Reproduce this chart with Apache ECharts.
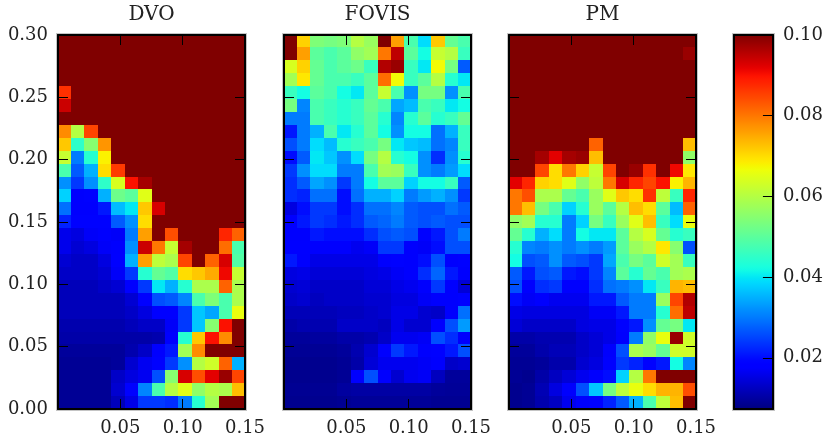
<!DOCTYPE html>
<html><head><meta charset="utf-8">
<style>html,body{margin:0;padding:0;background:#fff}#c{width:826px;height:438px}</style>
<script src="https://cdn.jsdelivr.net/npm/echarts@6/dist/echarts.min.js"></script>
</head><body><div id="c"></div>
<script>
const titles = ['DVO','FOVIS','PM'];
const xTicks = [0.05,0.10,0.15];
const yTicks = [0,0.05,0.10,0.15,0.20,0.25,0.30];
const cbTicks = [0.02,0.04,0.06,0.08,0.10];
const vMin = 0.0073, vMax = 0.10;
const T = 0.1;
// rows listed top (y=0.30) to bottom (y=0.00), 14 columns
const dvo = [
[T,T,T,T,T,T,T,T,T,T,T,T,T,T],
[T,T,T,T,T,T,T,T,T,T,T,T,T,T],
[T,T,T,T,T,T,T,T,T,T,T,T,T,T],
[T,T,T,T,T,T,T,T,T,T,T,T,T,T],
[.087,T,T,T,T,T,T,T,T,T,T,T,T,T],
[.094,T,T,T,T,T,T,T,T,T,T,T,T,T],
[T,T,T,T,T,T,T,T,T,T,T,T,T,T],
[.078,.060,.085,T,T,T,T,T,T,T,T,T,T,T],
[.072,.045,.055,.077,T,T,T,T,T,T,T,T,T,T],
[.062,.030,.044,.068,T,T,T,T,T,T,T,T,T,T],
[.048,.027,.035,.070,.086,T,T,T,T,T,T,T,T,T],
[.032,.024,.032,.045,.064,.090,.097,T,T,T,T,T,T,T],
[.038,.0175,.019,.035,.052,.050,.065,T,T,T,T,T,T,T],
[.029,.0175,.0175,.021,.036,.040,.072,.093,T,T,T,T,T,T],
[.022,.019,.019,.019,.027,.032,.070,T,T,T,T,T,T,T],
[.016,.015,.017,.0175,.017,.030,.076,T,.084,T,T,T,.088,.082],
[.016,.014,.015,.017,.0175,.032,.094,.080,.062,.097,T,T,.081,.048],
[.014,.013,.013,.015,.018,.035,.076,.061,.059,.085,T,.082,.093,.049],
[.013,.013,.013,.014,.017,.024,.044,.051,.049,.070,.072,.075,.091,.062],
[.012,.012,.012,.013,.014,.018,.024,.040,.035,.044,.059,.059,.082,.059],
[.012,.012,.012,.012,.012,.014,.018,.026,.027,.031,.048,.054,.048,.059],
[.012,.012,.012,.012,.012,.013,.015,.018,.018,.024,.037,.034,.048,.066],
[.011,.011,.011,.011,.011,.012,.013,.013,.017,.024,.037,.055,.090,T],
[.0105,.0105,.0105,.0105,.0105,.0105,.0105,.011,.0175,.044,.072,.090,.078,T],
[.0095,.0095,.0095,.0095,.0095,.011,.013,.0175,.021,.058,.078,T,T,T],
[.009,.009,.009,.009,.0095,.0137,.0165,.019,.024,.032,.060,.063,.082,.035],
[.009,.009,.009,.009,.013,.015,.0165,.026,.055,.093,.084,.092,.098,.085],
[.009,.009,.009,.009,.0137,.019,.031,.048,.060,.065,.056,.060,.059,.073],
[.009,.009,.009,.009,.012,.0156,.024,.024,.023,.030,.044,.058,T,T]
];
const fovis = [
[T,.071,.054,.053,.054,.060,.057,T,.076,.048,.039,.072,.051,.048],
[T,.076,.050,.048,.050,.056,.058,.080,.095,.050,.042,.062,.060,.046],
[.064,.071,.051,.048,.050,.052,.046,.096,.098,.046,.040,.067,.053,.027],
[.058,.069,.051,.048,.048,.046,.050,.081,.067,.046,.050,.060,.044,.040],
[.046,.042,.050,.048,.042,.040,.050,.062,.048,.032,.053,.053,.032,.048],
[.053,.031,.048,.046,.044,.046,.051,.048,.034,.036,.048,.046,.040,.042],
[.030,.030,.048,.046,.044,.046,.050,.044,.031,.044,.050,.044,.046,.051],
[.021,.030,.035,.048,.040,.044,.050,.042,.032,.042,.042,.029,.035,.046],
[.026,.030,.039,.036,.044,.046,.048,.053,.040,.037,.036,.029,.031,.046],
[.020,.027,.040,.037,.032,.039,.053,.060,.044,.042,.032,.023,.032,.044],
[.024,.032,.039,.039,.030,.030,.048,.058,.057,.046,.032,.030,.033,.039],
[.023,.027,.034,.032,.024,.030,.042,.050,.050,.038,.042,.042,.046,.027],
[.023,.022,.029,.029,.020,.029,.035,.035,.038,.030,.033,.035,.032,.024],
[.015,.020,.024,.024,.020,.023,.029,.029,.031,.027,.026,.026,.029,.027],
[.0175,.021,.024,.023,.021,.023,.027,.028,.030,.027,.026,.027,.026,.026],
[.0175,.0175,.021,.020,.020,.020,.023,.026,.027,.026,.019,.021,.026,.030],
[.018,.018,.0175,.0175,.0175,.0163,.017,.024,.024,.0175,.017,.020,.026,.026],
[.021,.0175,.0156,.0156,.0156,.0156,.0156,.0175,.019,.0175,.020,.026,.0175,.019],
[.015,.0156,.0143,.0143,.0143,.0143,.015,.0156,.0169,.0175,.023,.028,.021,.0175],
[.0137,.0143,.0131,.0131,.0131,.0131,.0143,.0143,.0156,.0163,.0175,.024,.0175,.0143],
[.0131,.0137,.0124,.0131,.0131,.0131,.0137,.0137,.015,.015,.0169,.0175,.0175,.019],
[.0118,.0118,.0118,.0118,.0124,.0124,.0131,.0137,.0156,.0156,.0137,.0131,.0175,.029],
[.0105,.0112,.0112,.0112,.0131,.0131,.0131,.0124,.0156,.0137,.0137,.0175,.026,.033],
[.0095,.0095,.0098,.0098,.0105,.0105,.0112,.0131,.0163,.0163,.0169,.026,.023,.0175],
[.009,.009,.009,.009,.0095,.0112,.0137,.0175,.024,.021,.0175,.019,.021,.026],
[.0085,.0085,.0085,.0085,.009,.0105,.0143,.0163,.0163,.0163,.0169,.0175,.0131,.0137],
[.0085,.0085,.0085,.0085,.009,.0175,.026,.0175,.0137,.0163,.0169,.0124,.0095,.0095],
[.0088,.0088,.0088,.0088,.0098,.0102,.0102,.0102,.0102,.0102,.0102,.0095,.0092,.0092],
[.0085,.0085,.0085,.0085,.0088,.0092,.0092,.0092,.0092,.0092,.0092,.0088,.0088,.0088]
];
const pm = [
[T,T,T,T,T,T,T,T,T,T,T,T,T,T],
[T,T,T,T,T,T,T,T,T,T,T,T,T,.098],
[T,T,T,T,T,T,T,T,T,T,T,T,T,T],
[T,T,T,T,T,T,T,T,T,T,T,T,T,T],
[T,T,T,T,T,T,T,T,T,T,T,T,T,T],
[T,T,T,T,T,T,T,T,T,T,T,T,T,T],
[T,T,T,T,T,T,T,T,T,T,T,T,T,T],
[T,T,T,T,T,T,T,T,T,T,T,T,T,T],
[T,T,T,T,T,T,.082,T,T,T,T,T,T,.073],
[T,T,.097,.092,.097,.098,.073,T,T,T,T,T,T,.056],
[T,T,.085,.070,.080,.071,.062,.085,T,.098,.087,T,.091,.069],
[.092,.088,.071,.070,.065,.056,.061,.080,.093,.088,.085,.090,.068,.074],
[.080,.084,.059,.059,.051,.048,.057,.065,.072,.070,.087,.061,.046,.088],
[.080,.073,.053,.048,.038,.044,.057,.050,.060,.073,.070,.050,.036,.082],
[.056,.058,.044,.044,.030,.038,.053,.046,.057,.065,.073,.046,.039,.066],
[.051,.044,.035,.039,.030,.042,.040,.040,.050,.060,.064,.051,.044,.046],
[.044,.031,.030,.032,.030,.032,.030,.033,.050,.057,.060,.069,.055,.026],
[.042,.026,.027,.032,.027,.026,.024,.034,.048,.053,.050,.063,.058,.046],
[.027,.021,.026,.027,.021,.020,.024,.031,.050,.044,.051,.048,.058,.059],
[.026,.0175,.023,.024,.0175,.0175,.023,.029,.030,.032,.040,.046,.074,.073],
[.020,.0169,.0175,.0163,.0163,.0163,.021,.021,.027,.030,.030,.057,.085,.096],
[.0156,.015,.015,.015,.015,.015,.0169,.0169,.021,.030,.030,.044,.081,.095],
[.0143,.0131,.0131,.0131,.0131,.015,.0156,.0156,.019,.021,.032,.051,.053,.040],
[.0105,.0105,.0112,.0112,.0112,.0131,.0143,.0156,.0175,.030,.056,.066,.098,.063],
[.0095,.0095,.0108,.0118,.0118,.0131,.0143,.0175,.026,.059,.057,.051,.063,.063],
[.009,.009,.0095,.0108,.0108,.0137,.015,.019,.024,.022,.019,.021,.042,.031],
[.009,.0085,.0105,.0125,.0143,.0163,.0175,.020,.038,.060,.080,T,T,T],
[.0085,.009,.0115,.015,.0175,.026,.037,.053,.061,.066,.070,.074,.074,.084],
[.0085,.009,.011,.0125,.0163,.0175,.019,.022,.027,.035,.048,.061,.073,T]
];
const panels = [dvo, fovis, pm];
const lefts = [58, 284, 509];
const gridW = 187, gridTop = 35, gridH = 374;
const serif = '"DejaVu Serif"', ink = '#222';

function jet(t){
  const seg=(p)=>{for(let i=1;i<p.length;i++){if(t<=p[i][0]){const a=p[i-1],b=p[i];return a[1]+(b[1]-a[1])*(t-a[0])/(b[0]-a[0]);}}return p[p.length-1][1];};
  const r=seg([[0,0],[.35,0],[.66,1],[.89,1],[1,.5]]),g=seg([[0,0],[.125,0],[.375,1],[.64,1],[.91,0],[1,0]]),b=seg([[0,.5],[.11,1],[.34,1],[.65,0],[1,0]]);
  return `rgb(${Math.round(r*255)},${Math.round(g*255)},${Math.round(b*255)})`;
}
const jetStops=[];for(let i=0;i<=128;i++)jetStops.push(jet(i/128));

const snap=(v)=>Math.round(Math.round(v*1000)/1000);
function renderCell(params, api){
  const c=api.coord([api.value(0),api.value(1)]), s=api.size([1,1]);
  const x0=snap(c[0]-s[0]/2), x1=snap(c[0]+s[0]/2), y0=snap(c[1]-s[1]/2), y1=snap(c[1]+s[1]/2);
  return {type:'rect',shape:{x:x0,y:y0,width:x1-x0,height:y1-y0},style:{fill:api.visual('color')}};
}

const grids=[],xAxes=[],yAxes=[],series=[],titleList=[];
const frameLine={show:true,onZero:false,lineStyle:{color:'#000',width:2}};
const tick=(vals)=>({show:true,inside:true,length:10,lineStyle:{color:'#000',width:1},customValues:vals});
function valX(g,pos,labels){xAxes.push({type:'value',gridIndex:g,position:pos,min:0,max:.15,z:6,splitLine:{show:false},
  axisLine:frameLine,axisTick:tick([.05,.10]),
  axisLabel:{show:labels,customValues:xTicks,margin:10,color:ink,fontFamily:serif,fontSize:18,formatter:v=>v.toFixed(2)}});}
function valY(g,pos,labels){yAxes.push({type:'value',gridIndex:g,position:pos,min:0,max:.30,z:6,splitLine:{show:false},
  axisLine:frameLine,axisTick:tick([.05,.10,.15,.20,.25]),
  axisLabel:{show:labels,customValues:yTicks,margin:10,padding:[5,0,0,0],color:ink,fontFamily:serif,fontSize:18,formatter:v=>v.toFixed(2)}});}

panels.forEach((rows,p)=>{
  const rect={left:lefts[p],top:gridTop,width:gridW,height:gridH};
  let g=grids.length;grids.push({left:lefts[p]-0.5,top:gridTop-0.5,width:gridW+1,height:gridH+0.5});
  xAxes.push({type:'category',gridIndex:g,show:false,data:rows[0].map((_,i)=>i)});
  yAxes.push({type:'category',gridIndex:g,show:false,inverse:true,data:rows.map((_,i)=>i)});
  const cells=[];rows.forEach((r,ri)=>r.forEach((v,ci)=>cells.push([ci,ri,v])));
  series.push({type:'custom',name:titles[p],xAxisIndex:xAxes.length-1,yAxisIndex:yAxes.length-1,data:cells,encode:{x:0,y:1},renderItem:renderCell,clip:false,z:2,silent:true});
  g=grids.length;grids.push(Object.assign({show:true,borderColor:'#c4c4c4',borderWidth:4,backgroundColor:'transparent'},rect));valX(g,'bottom',true);valY(g,'left',p===0);
  g=grids.length;grids.push(rect);valX(g,'top',false);valY(g,'right',false);
  titleList.push({text:titles[p],left:lefts[p]+gridW/2,top:5,padding:0,textAlign:'center',
    textStyle:{fontFamily:serif,fontWeight:'normal',fontSize:20,color:ink}});
});
const cbRect={left:734,top:gridTop,width:39,height:gridH};
let cg=grids.length;grids.push(Object.assign({show:true,borderColor:'#c4c4c4',borderWidth:4,backgroundColor:'transparent'},cbRect));
xAxes.push({type:'value',gridIndex:cg,position:'bottom',min:0,max:1,z:6,splitLine:{show:false},axisTick:{show:false},axisLabel:{show:false},axisLine:frameLine});
yAxes.push({type:'value',gridIndex:cg,position:'left',min:vMin,max:vMax,z:6,splitLine:{show:false},axisTick:{show:false},axisLabel:{show:false},axisLine:frameLine});
cg=grids.length;grids.push(cbRect);
xAxes.push({type:'value',gridIndex:cg,position:'top',min:0,max:1,z:6,splitLine:{show:false},axisTick:{show:false},axisLabel:{show:false},axisLine:frameLine});
yAxes.push({type:'value',gridIndex:cg,position:'right',min:vMin,max:vMax,z:6,splitLine:{show:false},axisLine:frameLine,
  axisTick:tick(cbTicks.slice(0,4)),
  axisLabel:{show:true,customValues:cbTicks,margin:10,padding:[5,0,0,0],color:ink,fontFamily:serif,fontSize:18,formatter:v=>v.toFixed(2)}});

const chart=echarts.init(document.getElementById('c'),null,{renderer:'canvas'});
chart.setOption({animation:false,backgroundColor:'#fff',title:titleList,grid:grids,xAxis:xAxes,yAxis:yAxes,series:series,
  visualMap:[{type:'continuous',seriesIndex:[0,1,2],dimension:2,min:vMin,max:vMax,calculable:false,hoverLink:false,orient:'vertical',
    left:734,top:gridTop,itemWidth:39,itemHeight:gridH,padding:0,showLabel:false,inRange:{color:jetStops}}]});
</script></body></html>
